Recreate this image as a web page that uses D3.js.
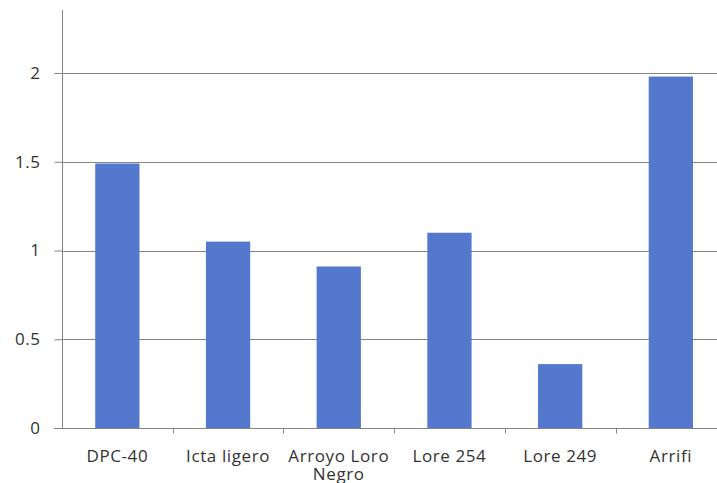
<!DOCTYPE html>
<html>
<head>
<meta charset="utf-8">
<script src="https://cdn.jsdelivr.net/npm/d3@7"></script>
<style>
  html, body { margin: 0; padding: 0; background: #fff; }
  svg { display: block; }
  .tick text { font-family: "Open Sans", Lato, sans-serif; fill: #333; }
</style>
</head>
<body>
<svg id="chart" width="717" height="483"></svg>
<script>
// Values per variety
const categories = ["DPC-40", "Icta ligero", "Arroyo Loro Negro", "Lore 254", "Lore 249", "Arrifi"];
const values = [1.49, 1.05, 0.91, 1.10, 0.36, 1.98];
const yTicks = [0, 0.5, 1, 1.5, 2];
const yTickLabels = ["0", "0.5", "1", "1.5", "2"];

const svg = d3.select("#chart");
const W = 717, H = 483;
const margin = { left: 62, top: 10, bottom: 55 };
const plotRight = 62 + 6 * 110.7;   // plot runs past the right edge of the frame
const baseY = H - margin.bottom;     // y of zero line
const fontFamily = "'Open Sans', Lato, sans-serif";

const x = d3.scaleBand()
  .domain(categories)
  .range([margin.left, plotRight])
  .paddingInner(0.6)
  .paddingOuter(0.3);

const y = d3.scaleLinear()
  .domain([0, 2.355])
  .range([baseY, margin.top]);

// Horizontal gridlines
svg.append("g")
  .selectAll("line")
  .data(yTicks.slice(1))
  .join("line")
  .attr("x1", margin.left)
  .attr("x2", W)
  .attr("y1", d => Math.round(y(d)) + 0.5)
  .attr("y2", d => Math.round(y(d)) + 0.5)
  .attr("stroke", "#858585")
  .attr("stroke-width", 1);

// Bars
svg.append("g")
  .selectAll("rect")
  .data(categories.map((c, i) => ({ c, v: values[i] })))
  .join("rect")
  .attr("x", d => x(d.c))
  .attr("width", x.bandwidth())
  .attr("y", d => y(d.v))
  .attr("height", d => baseY - y(d.v))
  .attr("fill", "#5478cd");

// Y axis
const yAxis = d3.axisLeft(y)
  .tickValues(yTicks)
  .tickFormat((d, i) => yTickLabels[i])
  .tickSize(8)
  .tickPadding(14);

const gy = svg.append("g")
  .attr("transform", `translate(${margin.left + 0.5},0)`)
  .call(yAxis);
gy.select(".domain").attr("stroke", "#858585").attr("d", `M0,${margin.top}V${baseY}`);
gy.selectAll(".tick line").attr("stroke", "#858585");
gy.selectAll(".tick text").style("font-size", "17px").style("letter-spacing", "0.5px");

// X axis with boundary ticks between categories
const gx = svg.append("g")
  .attr("transform", `translate(0,${Math.round(baseY) + 0.5})`);
gx.append("line")
  .attr("x1", margin.left - 8)
  .attr("x2", W)
  .attr("stroke", "#858585");
gx.selectAll("line.b")
  .data(d3.range(1, categories.length))
  .join("line")
  .attr("class", "b")
  .attr("x1", i => Math.round(margin.left + i * (plotRight - margin.left) / categories.length) + 0.5)
  .attr("x2", i => Math.round(margin.left + i * (plotRight - margin.left) / categories.length) + 0.5)
  .attr("y1", 0)
  .attr("y2", 5)
  .attr("stroke", "#858585");

// Category labels, wrapped where they are too long
const labels = gx.selectAll("text")
  .data(categories)
  .join("text")
  .attr("x", d => x(d) + x.bandwidth() / 2)
  .attr("y", 33)
  .attr("text-anchor", "middle")
  .style("font-family", fontFamily)
  .style("font-size", "17px")
  .style("letter-spacing", "0.6px")
  .attr("fill", "#333");

labels.each(function(d) {
  const t = d3.select(this);
  const lines = d === "Arroyo Loro Negro" ? ["Arroyo Loro", "Negro"] : [d];
  lines.forEach((ln, k) => {
    t.append("tspan")
      .attr("x", x(d) + x.bandwidth() / 2)
      .attr("dy", k === 0 ? 0 : 18)
      .text(ln);
  });
});
</script>
</body>
</html>
